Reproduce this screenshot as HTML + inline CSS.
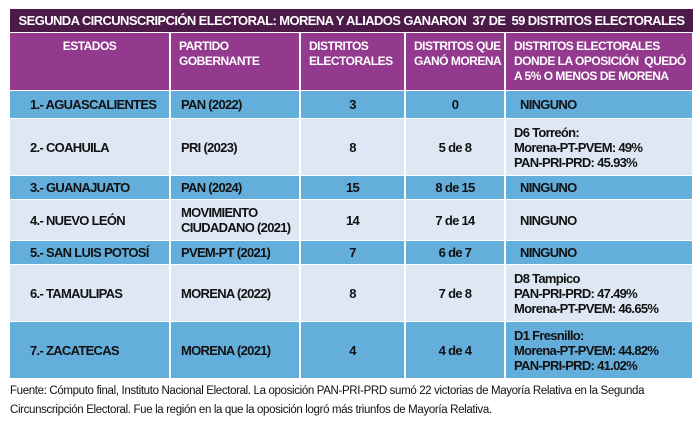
<!DOCTYPE html>
<html><head><meta charset="utf-8"><style>
body{margin:0;width:700px;height:424px;background:#fff;position:relative;overflow:hidden;font-family:"Liberation Sans Narrow","Liberation Sans",sans-serif;}
.c{position:absolute;box-sizing:border-box;font-weight:bold;font-size:13px;letter-spacing:-0.7px;color:#111;display:flex;align-items:center;line-height:15px;white-space:nowrap;overflow:hidden;}
.h{color:#fff;align-items:flex-start;padding-top:6px;background:#933a8f;font-size:12px;letter-spacing:-0.5px;}
.b{background:#64aedb}.l{background:#dde8f4}
.ctr{justify-content:center;text-align:center}
.t{position:absolute;left:10px;top:9px;width:683px;height:23px;background:#4c1a49;color:#fff;font-weight:bold;font-size:13px;letter-spacing:-0.6px;text-align:center;line-height:23px;white-space:nowrap}
.f{position:absolute;left:10px;top:382px;width:690px;font-family:"Liberation Sans",sans-serif;font-size:11.5px;letter-spacing:-0.35px;line-height:19px;color:#111}
</style></head><body>
<div class="t">SEGUNDA CIRCUNSCRIPCIÓN ELECTORAL: MORENA Y ALIADOS GANARON &nbsp;37 DE &nbsp;59 DISTRITOS ELECTORALES</div>
<div id="g"></div>
<div class="f">Fuente: Cómputo final, Instituto Nacional Electoral. La oposición PAN-PRI-PRD sumó 22 victorias de Mayoría Relativa en la Segunda Circunscripción Electoral. Fue la región en la que la oposición logró más triunfos de Mayoría Relativa.</div>
<script>
var cols=[10,170,300,405,505,693];
var rows=[[33,90,'h',['ESTADOS','PARTIDO<br>GOBERNANTE','DISTRITOS<br>ELECTORALES','DISTRITOS QUE<br>GANÓ MORENA','DISTRITOS ELECTORALES<br>DONDE LA OPOSICIÓN &nbsp;QUEDÓ<br>A 5% O MENOS DE MORENA']],
[91,118,'b',['1.- AGUASCALIENTES','PAN (2022)','3','0','NINGUNO']],
[119,175,'l',['2.- COAHUILA','PRI (2023)','8','5 de 8','D6 Torreón:<br>Morena-PT-PVEM: 49%<br>PAN-PRI-PRD: 45.93%']],
[176,199,'b',['3.- GUANAJUATO','PAN (2024)','15','8 de 15','NINGUNO']],
[200,240,'l',['4.- NUEVO LEÓN','MOVIMIENTO<br>CIUDADANO (2021)','14','7 de 14','NINGUNO']],
[241,264,'b',['5.- SAN LUIS POTOSÍ','PVEM-PT (2021)','7','6 de 7','NINGUNO']],
[265,321,'l',['6.- TAMAULIPAS','MORENA (2022)','8','7 de 8','D8 Tampico<br>PAN-PRI-PRD: 47.49%<br>Morena-PT-PVEM: 46.65%']],
[322,378,'b',['7.- ZACATECAS','MORENA (2021)','4','4 de 4','D1 Fresnillo:<br>Morena-PT-PVEM: 44.82%<br>PAN-PRI-PRD: 41.02%']]];
var h='';
rows.forEach(function(r){for(var i=0;i<5;i++){var x=cols[i]+(i?1:0),w=cols[i+1]-x-1;var cls='c '+r[2];var pad='padding-left:8px;';
if(r[2]=='h'){if(i==0){cls+=' ctr';pad='';}}
else{if(i==2||i==3){cls+=' ctr';pad='';} if(i==0)pad='padding-left:20px;'; if(i==4&&r[3][4]=='NINGUNO')pad='padding-left:14px;'; if(i==1)pad='padding-left:10px;';}
h+='<div class="'+cls+'" style="left:'+x+'px;top:'+r[0]+'px;width:'+w+'px;height:'+(r[1]-r[0])+'px;'+pad+'"><div>'+r[3][i]+'</div></div>';}});
document.getElementById('g').innerHTML=h;
</script>
</body></html>
